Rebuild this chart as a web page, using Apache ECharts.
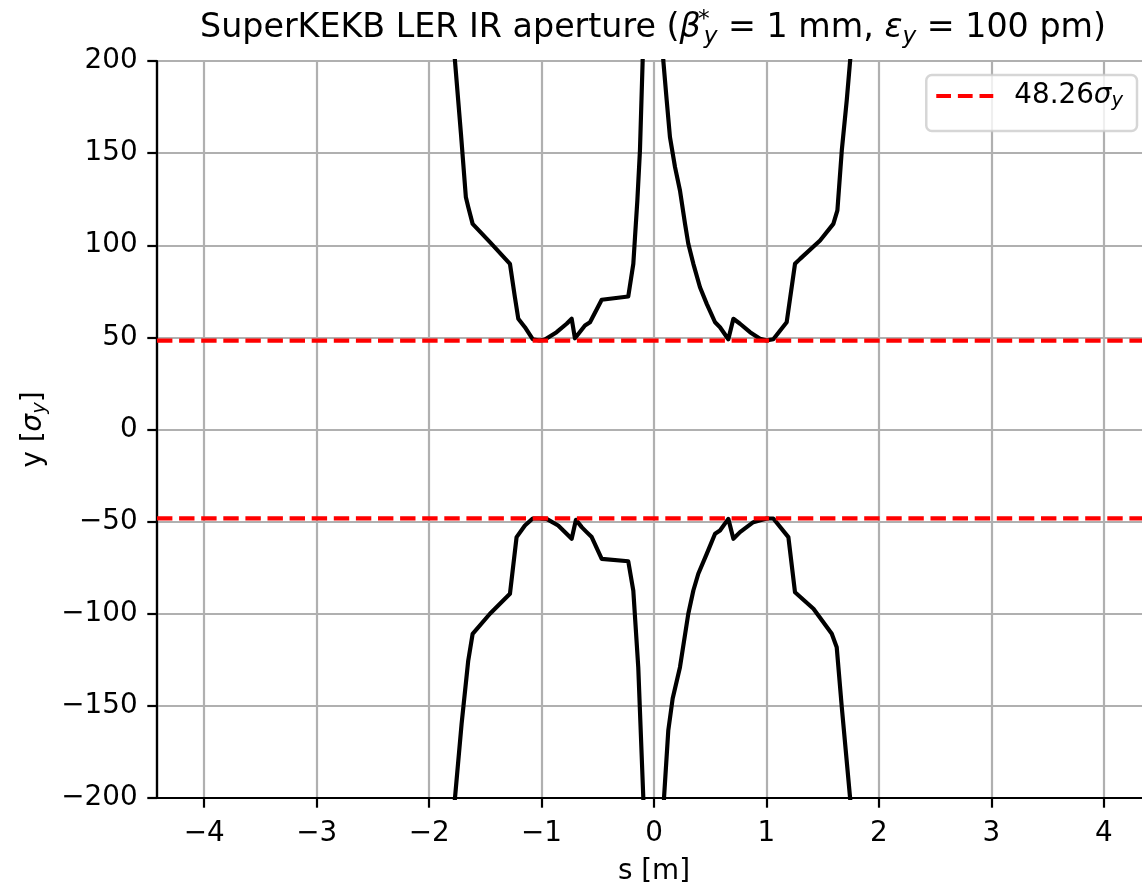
<!DOCTYPE html>
<html>
<head>
<meta charset="utf-8">
<script src="https://cdn.jsdelivr.net/npm/echarts@6.0.0/dist/echarts.min.js"></script>
<style>
html,body{margin:0;padding:0;background:#ffffff;}
#chart{width:1142px;height:886px;}
</style>
</head>
<body>
<div id="chart"></div>
<script>
// ---- data ----
const upperS = [-1.80, -1.770, -1.717, -1.673, -1.652, -1.613, -1.459, -1.281, -1.237, -1.207, -1.148, -1.079, -1.020, -0.970, -0.866, -0.777, -0.732, -0.703, -0.614, -0.569, -0.465, -0.229, -0.184, -0.169, -0.148, -0.125, -0.101, -0.090,
                0.070, 0.083, 0.113, 0.142, 0.187, 0.231, 0.276, 0.305, 0.350, 0.409, 0.469, 0.543, 0.587, 0.661, 0.706, 0.765, 0.854, 0.943, 1.000, 1.061, 1.180, 1.254, 1.299, 1.477, 1.595, 1.631, 1.670, 1.714, 1.744, 1.770];
const upperY = [225, 200, 160.6, 126.0, 120.7, 111.6, 101.7, 89.9, 71.8, 60.1, 55.5, 49.0, 48.3, 48.8, 52.8, 57.4, 60.1, 49.5, 56.4, 58.2, 70.4, 72.2, 89.9, 104.3, 124.3, 151.4, 200, 225,
                215, 200, 178.6, 158.7, 142.4, 129.7, 111.6, 100.8, 89.9, 77.2, 68.2, 58.2, 55.5, 49.0, 60.1, 57.4, 52.8, 49.3, 48.3, 49.0, 58.2, 89.9, 92.6, 102.6, 111.6, 118.9, 151.4, 178.6, 200, 220];
const lowerS = [-1.80, -1.770, -1.711, -1.652, -1.613, -1.459, -1.281, -1.222, -1.148, -1.079, -1.020, -0.955, -0.852, -0.732, -0.694, -0.643, -0.599, -0.554, -0.465, -0.229, -0.184, -0.140, -0.095, -0.090,
                0.080, 0.089, 0.127, 0.166, 0.231, 0.305, 0.350, 0.394, 0.469, 0.543, 0.587, 0.661, 0.706, 0.765, 0.883, 1.002, 1.061, 1.195, 1.254, 1.418, 1.581, 1.625, 1.670, 1.744, 1.770];
const lowerY = [-225, -200, -159.7, -125.4, -110.9, -100.0, -89.2, -58.4, -52.1, -48.3, -48.3, -48.5, -52.1, -59.3, -49.0, -53.0, -55.7, -58.4, -70.2, -71.5, -87.4, -129.0, -200, -220,
                -220, -200, -163.4, -146.0, -129.0, -100.0, -87.4, -78.3, -67.5, -56.6, -54.8, -48.5, -59.3, -55.7, -50.3, -48.3, -48.3, -58.4, -88.3, -97.3, -110.9, -118.2, -150.7, -200, -220];
const threshold = 48.26;
const xTicks = [-4, -3, -2, -1, 0, 1, 2, 3, 4];
const yTicks = [-200, -150, -100, -50, 0, 50, 100, 150, 200];
const xRange = [-4.42, 4.42];
const yRange = [-200, 200];

// ---- styling ----
const F = 'DejaVu Sans';
const FS = 27.8;
const TFS = 33.3;
const SUBFS = 19.5;
const TSUBFS = 23.3;
const fmt = v => (v < 0 ? '\u2212' + Math.abs(v) : String(v));
const zip = (a, b) => a.map((v, i) => [v, b[i]]);
const legendName = threshold.toFixed(2) + 'σy';

const chart = echarts.init(document.getElementById('chart'), null, {renderer: 'canvas'});
const option = {
  animation: false,
  backgroundColor: '#ffffff',
  graphic: [{
    type: 'text', x: 653, y: 28, z: 10, silent: true,
    style: {
      text: '{n|SuperKEKB LER IR aperture (}{i|β}{sup|*}{sub|y}{n| = 1 mm, }{i|ε}{sub|y}{n| = 100 pm)}',
      fontFamily: F, fontSize: TFS, fill: '#000',
      align: 'center', verticalAlign: 'middle', textAlign: 'center', textVerticalAlign: 'middle',
      rich: {
        n: {fontFamily: F, fontSize: TFS, lineHeight: 40, fill: '#000'},
        i: {fontFamily: F, fontSize: TFS, fontStyle: 'italic', lineHeight: 40, fill: '#000'},
        sup: {fontFamily: F, fontSize: TSUBFS, lineHeight: TSUBFS, verticalAlign: 'top', width: 0, padding: [0, 0, 0, 3], fill: '#000'},
        sub: {fontFamily: F, fontSize: TSUBFS, fontStyle: 'italic', lineHeight: TSUBFS, verticalAlign: 'bottom', fill: '#000'}
      }
    }
  }],
  legend: {
    data: [{name: legendName, icon: 'path://M0,0h15v4h-15z M22,0h15v4h-15z M44,0h14v4h-14z'}],
    right: 5, top: 75, orient: 'vertical',
    padding: [7, 14, 20, 10], itemWidth: 57, itemHeight: 4.17,
    backgroundColor: 'rgba(255,255,255,0.8)', borderColor: 'rgba(204,204,204,0.8)',
    borderWidth: 2.5, borderRadius: 5.6, selectedMode: false,
    itemStyle: {color: '#ff0000'},
    formatter: () => '{a|' + threshold.toFixed(2) + '}{b|σ}{c|y}',
    textStyle: {
      fontFamily: F, fontSize: FS, color: '#000', padding: [0, 0, 0, 16],
      rich: {
        a: {fontFamily: F, fontSize: FS, lineHeight: 30, color: '#000'},
        b: {fontFamily: F, fontSize: FS, fontStyle: 'italic', lineHeight: 30, color: '#000'},
        c: {fontFamily: F, fontSize: SUBFS, fontStyle: 'italic', lineHeight: SUBFS, verticalAlign: 'bottom', color: '#000'}
      }
    }
  },
  grid: {
    left: 157, top: 61, right: -9, bottom: 88, containLabel: false, outerBoundsMode: 'none',
    show: true, borderColor: '#000', borderWidth: 2.2, backgroundColor: 'transparent'
  },
  xAxis: {
    type: 'value', min: xRange[0], max: xRange[1], splitNumber: 9,
    name: 's [m]', nameLocation: 'middle', nameGap: 58,
    nameTextStyle: {fontFamily: F, fontSize: FS, color: '#000', lineHeight: 32},
    axisLine: {show: true, onZero: false, lineStyle: {color: '#000', width: 2.2}},
    axisTick: {show: true, length: 9.7, customValues: xTicks, lineStyle: {color: '#000', width: 2.2}},
    axisLabel: {customValues: xTicks, formatter: fmt, margin: 22, fontFamily: F, fontSize: FS, color: '#000', showMinLabel: true, showMaxLabel: true},
    splitLine: {show: true, lineStyle: {color: '#b0b0b0', width: 2.2}}
  },
  yAxis: {
    type: 'value', min: yRange[0], max: yRange[1], interval: 50,
    name: 'y [{i|σ}{s|y}]', nameLocation: 'middle', nameGap: 104, nameRotate: 90,
    nameTextStyle: {
      fontFamily: F, fontSize: FS, color: '#000', lineHeight: 34,
      rich: {
        i: {fontFamily: F, fontSize: FS, fontStyle: 'italic', lineHeight: 34, color: '#000'},
        s: {fontFamily: F, fontSize: SUBFS, fontStyle: 'italic', lineHeight: SUBFS, verticalAlign: 'bottom', color: '#000'}
      }
    },
    axisLine: {show: true, onZero: false, lineStyle: {color: '#000', width: 2.2}},
    axisTick: {show: true, length: 9.7, customValues: yTicks, lineStyle: {color: '#000', width: 2.2}},
    axisLabel: {customValues: yTicks, formatter: fmt, margin: 19.4, fontFamily: F, fontSize: FS, color: '#000', showMinLabel: true, showMaxLabel: true},
    splitLine: {show: true, lineStyle: {color: '#b0b0b0', width: 2.2}}
  },
  series: [
    {type: 'line', name: 'upper', data: zip(upperS, upperY), symbol: 'none', silent: true, z: 3,
     lineStyle: {color: '#000', width: 4.17, join: 'round'}, itemStyle: {color: '#000'}},
    {type: 'line', name: 'lower', data: zip(lowerS, lowerY), symbol: 'none', silent: true, z: 3,
     lineStyle: {color: '#000', width: 4.17, join: 'round'}, itemStyle: {color: '#000'}},
    {type: 'line', name: legendName, data: [[xRange[0], threshold], [xRange[1], threshold]], symbol: 'none', silent: true, z: 4,
     lineStyle: {color: '#ff0000', width: 4.17, type: [15.4, 6.7]}, itemStyle: {color: '#ff0000'}},
    {type: 'line', name: legendName, data: [[xRange[0], -threshold], [xRange[1], -threshold]], symbol: 'none', silent: true, z: 4,
     lineStyle: {color: '#ff0000', width: 4.17, type: [15.4, 6.7]}, itemStyle: {color: '#ff0000'}}
  ]
};
chart.setOption(option);
</script>
</body>
</html>
